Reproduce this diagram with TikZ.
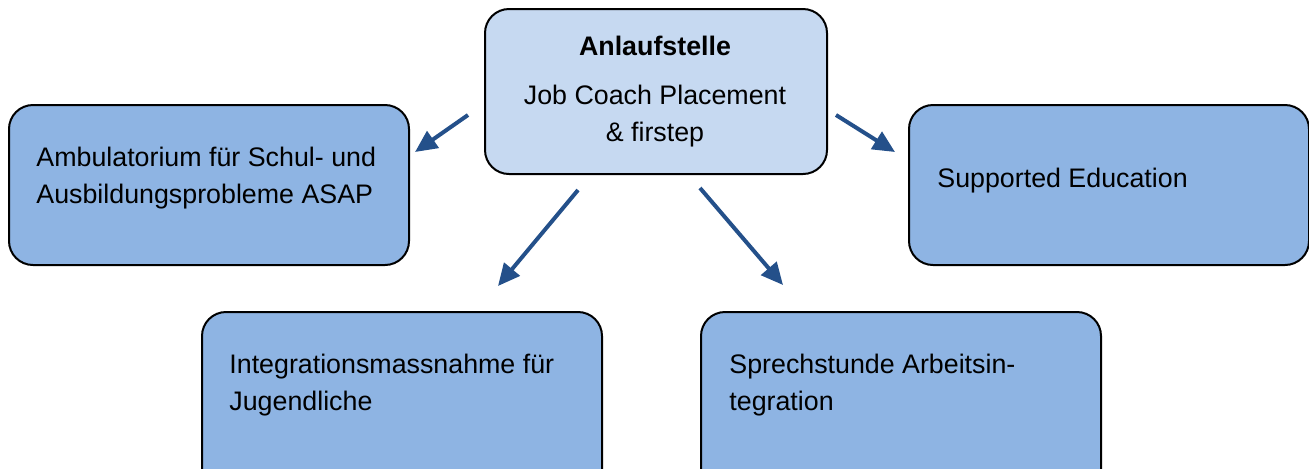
\documentclass[tikz,border=0pt]{standalone}
\usepackage{fontspec}
\setmainfont{Liberation Sans}
\usetikzlibrary{arrows.meta}

\definecolor{boxblue}{HTML}{8EB4E3}
\definecolor{hubblue}{HTML}{C6D9F1}
\definecolor{arrowblue}{HTML}{24508A}

\tikzset{
  box/.style={draw, line width=1pt, rounded corners=12pt, fill=boxblue,
    anchor=north west, inner sep=0pt, minimum width=200pt, minimum height=80pt},
  lbl/.style={anchor=base west, inner sep=0pt, align=left,
    font=\fontsize{13.4}{18.5}\selectfont},
  link/.style={arrowblue, line width=2pt, -{Triangle[length=11pt,width=10pt]}}
}

\begin{document}
\begin{tikzpicture}[x=0.5pt,y=-0.5pt]

\clip (0,0) rectangle (1309,468);

\node[box, fill=hubblue, minimum width=171pt, minimum height=82.5pt] (hub) at (484,8) {};
\node[box] (asap) at (8,104) {};
\node[box] (supp) at (908,104) {};
\node[box, minimum height=110pt] (jugend) at (201,311) {};
\node[box, minimum height=110pt] (arbeit) at (700,311) {};

\node[lbl, anchor=base, font=\fontsize{13.4}{18.5}\selectfont\bfseries] (hubtitle) at (655,55) {Anlaufstelle};
\node[lbl, anchor=base, align=center] (hubtext) at (655,141) {Job Coach Placement\\\& firstep};
\node[lbl] (asaptext) at (36,203) {Ambulatorium für Schul- und\\Ausbildungsprobleme ASAP};
\node[lbl] (supptext) at (937,187) {Supported Education};
\node[lbl] (jugendtext) at (229,410) {Integrationsmassnahme für\\Jugendliche};
\node[lbl] (arbeittext) at (729,410) {Sprechstunde Arbeitsin-\\tegration};

\coordinate (a1) at (468,115);
\coordinate (b1) at (415,152);
\coordinate (a2) at (836,115);
\coordinate (b2) at (895,152);
\coordinate (a3) at (578,190);
\coordinate (b3) at (498,286);
\coordinate (a4) at (700,188);
\coordinate (b4) at (783,285);

\foreach \s/\t in {a1/b1,a2/b2,a3/b3,a4/b4}
  \draw[link] (\s) -- (\t);

\end{tikzpicture}
\end{document}
